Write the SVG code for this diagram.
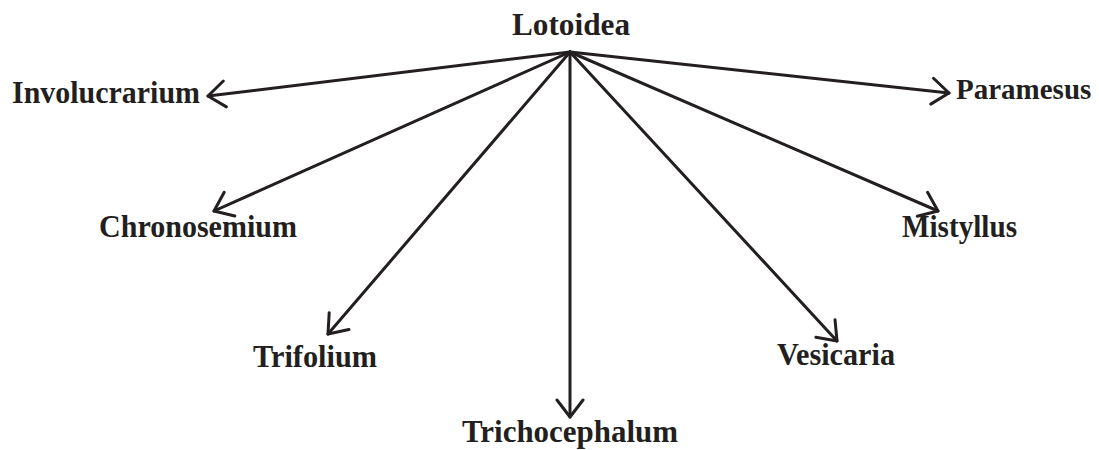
<svg xmlns="http://www.w3.org/2000/svg" width="1099" height="450" viewBox="0 0 1099 450">
<style>
text{font-family:"Liberation Serif","Times New Roman",serif;font-weight:bold;font-size:32px;fill:#231f20}
.c line{stroke:#231f20;stroke-width:3;stroke-linecap:round;marker-end:url(#a)}
</style>
<defs>
<marker id="a" viewBox="-22 -16 24 32" markerWidth="24" markerHeight="32" markerUnits="userSpaceOnUse" refX="0" refY="0" orient="auto">
<path d="M-17,-13 L0,0 L-17,13" fill="none" stroke="#231f20" stroke-width="3" stroke-linecap="round" stroke-linejoin="round"/>
</marker>
</defs>
<rect width="1099" height="450" fill="#fff"/>
<g class="c" id="connectors">
<line x1="570" y1="52" x2="208" y2="96"/>
<line x1="570" y1="52" x2="214" y2="211"/>
<line x1="570" y1="52" x2="328" y2="334"/>
<line x1="570" y1="52" x2="570" y2="417"/>
<line x1="570" y1="52" x2="837" y2="341"/>
<line x1="570" y1="52" x2="938" y2="211"/>
<line x1="570" y1="52" x2="949" y2="93"/>
</g>
<g id="lotoidea"><text x="512" y="35" textLength="118" lengthAdjust="spacingAndGlyphs">Lotoidea</text></g>
<g id="involucrarium"><text x="12" y="103" textLength="188" lengthAdjust="spacingAndGlyphs">Involucrarium</text></g>
<g id="chronosemium"><text x="99" y="237" textLength="198" lengthAdjust="spacingAndGlyphs">Chronosemium</text></g>
<g id="trifolium"><text x="253" y="367" textLength="124" lengthAdjust="spacingAndGlyphs">Trifolium</text></g>
<g id="trichocephalum"><text x="462" y="442" textLength="216" lengthAdjust="spacingAndGlyphs">Trichocephalum</text></g>
<g id="vesicaria"><text x="777" y="365" textLength="118" lengthAdjust="spacingAndGlyphs">Vesicaria</text></g>
<g id="mistyllus"><text x="902" y="237" textLength="115" lengthAdjust="spacingAndGlyphs">Mistyllus</text></g>
<g id="paramesus"><text x="956" y="99" style="font-size:29px">Paramesus</text></g>
</svg>
